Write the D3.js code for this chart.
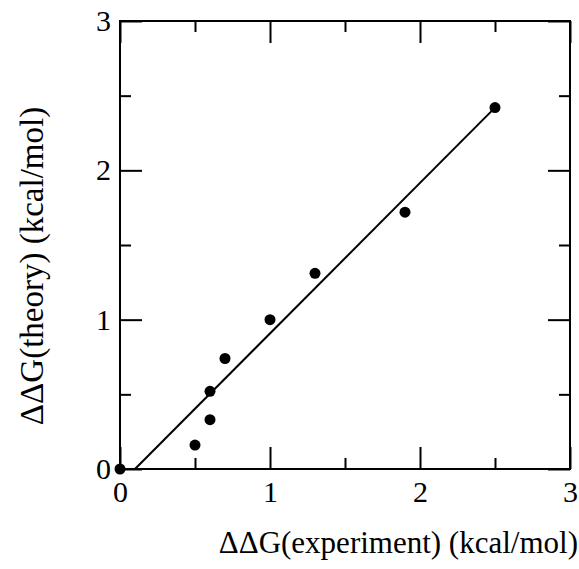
<!DOCTYPE html>
<html>
<head>
<meta charset="utf-8">
<script src="https://cdn.jsdelivr.net/npm/d3@7"></script>
<style>
  body { margin: 0; background: #fff; }
</style>
</head>
<body>
<div id="chart"></div>
<script>
// measured points
var expt   = [0, 0.5, 0.6, 0.6, 0.7, 1.0, 1.3, 1.9, 2.5];
var theory = [0, 0.16, 0.33, 0.52, 0.74, 1.0, 1.31, 1.72, 2.42];
// fitted line ends
var fitX = [0.1, 2.5];
var fitY = [0, 2.42];
var majorTicks = [0, 1, 2, 3];
var minorTicks = [0.5, 1.5, 2.5];

var width = 579, height = 569;
var margin = {top: 21, right: 9, bottom: 100, left: 120};
var w = width - margin.left - margin.right,
    h = height - margin.top - margin.bottom;
var serif = "'Liberation Serif'";

var root = d3.select("#chart").append("svg")
    .attr("width", width)
    .attr("height", height);

var svg = root.append("g")
    .attr("transform", `translate(${margin.left},${margin.top})`);

var x = d3.scaleLinear().domain([0, 3]).range([0, w]);
var y = d3.scaleLinear().domain([0, 3]).range([h, 0]);

// frame
svg.append("rect")
    .attr("width", w).attr("height", h)
    .attr("fill", "none").attr("stroke", "black").attr("stroke-width", 2);

var big = 22, small = 11;

// ticks, inward on all four sides
var xb = svg.append("g").attr("transform", `translate(0,${h})`)
    .call(d3.axisBottom(x).tickValues(majorTicks).tickSize(-big).tickPadding(12).tickFormat(d3.format("d")));
svg.append("g").attr("transform", `translate(0,${h})`)
    .call(d3.axisBottom(x).tickValues(minorTicks).tickSize(-small).tickFormat(""));
svg.append("g")
    .call(d3.axisTop(x).tickValues(majorTicks).tickSize(-big).tickFormat(""));
svg.append("g")
    .call(d3.axisTop(x).tickValues(minorTicks).tickSize(-small).tickFormat(""));
var yl = svg.append("g")
    .call(d3.axisLeft(y).tickValues(majorTicks).tickSize(-big).tickPadding(9).tickFormat(d3.format("d")));
svg.append("g")
    .call(d3.axisLeft(y).tickValues(minorTicks).tickSize(-small).tickFormat(""));
svg.append("g").attr("transform", `translate(${w},0)`)
    .call(d3.axisRight(y).tickValues(majorTicks).tickSize(-big).tickFormat(""));
svg.append("g").attr("transform", `translate(${w},0)`)
    .call(d3.axisRight(y).tickValues(minorTicks).tickSize(-small).tickFormat(""));

svg.selectAll(".domain").remove();
svg.selectAll(".tick line").attr("stroke", "black").attr("stroke-width", 2);
svg.selectAll(".tick text")
    .style("font-family", serif)
    .style("font-size", "30px");

// fit line
svg.append("line")
    .attr("x1", x(fitX[0])).attr("y1", y(fitY[0]))
    .attr("x2", x(fitX[1])).attr("y2", y(fitY[1]))
    .attr("stroke", "black").attr("stroke-width", 2);

// points
svg.selectAll("circle.pt")
    .data(expt)
  .enter().append("circle")
    .attr("class", "pt")
    .attr("cx", function(d) { return x(d); })
    .attr("cy", function(d, i) { return y(theory[i]); })
    .attr("r", 5.5)
    .attr("fill", "black");

// axis labels
root.append("text")
    .attr("x", 578)
    .attr("y", 553)
    .style("text-anchor", "end")
    .style("font-family", serif)
    .style("font-size", "31px")
    .text("ΔΔG(experiment) (kcal/mol)");

root.append("g")
    .attr("transform", "translate(43,266) rotate(-90)")
  .append("text")
    .style("text-anchor", "middle")
    .style("font-family", serif)
    .style("font-size", "33px")
    .text("ΔΔG(theory) (kcal/mol)");
</script>
</body>
</html>
